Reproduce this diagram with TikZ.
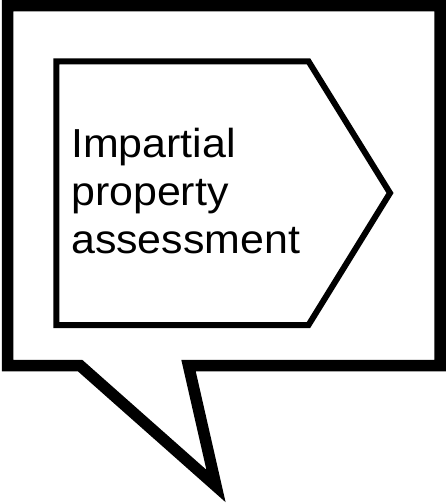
\documentclass[tikz,border=0pt]{standalone}
\usepackage{fontspec}
\newfontfamily\labelfont[FakeStretch=1.06]{Liberation Sans}
\tikzset{
  bubble/.style={draw=black, line width=11.5pt, miter limit=10, line join=miter, fill=white},
  tag/.style={draw=black, line width=6pt, line join=miter, fill=white},
  labeltext/.style={align=left, inner sep=0pt, anchor=north west,
    font=\labelfont\fontsize{40.5}{48}\selectfont}
}
\begin{document}
\begin{tikzpicture}[x=1pt,y=-1pt]
  \useasboundingbox (0,0) rectangle (446,504);
  \fill[white] (0,0) rectangle (446,504);
  % speech bubble with tail
  \coordinate (tl) at (7.7,5.5);
  \coordinate (tr) at (440,5.5);
  \coordinate (br) at (440,365.5);
  \coordinate (tailr) at (188.5,365.5);
  \coordinate (tip) at (216,486);
  \coordinate (taill) at (80,365.5);
  \coordinate (bl) at (7.7,365.5);
  \draw[bubble] (tl) -- (tr) -- (br) -- (tailr) -- (tip) -- (taill) -- (bl) -- cycle;
  % pentagon arrow tag
  \coordinate (p1) at (56.3,61.3);
  \coordinate (p2) at (308.5,61.3);
  \coordinate (p3) at (390,193);
  \coordinate (p4) at (308.5,325);
  \coordinate (p5) at (56.3,325);
  \draw[tag] (p1) -- (p2) -- (p3) -- (p4) -- (p5) -- cycle;
  \node[labeltext] (label) at (71,128.3) {Impartial\\property\\assessment};
\end{tikzpicture}
\end{document}
